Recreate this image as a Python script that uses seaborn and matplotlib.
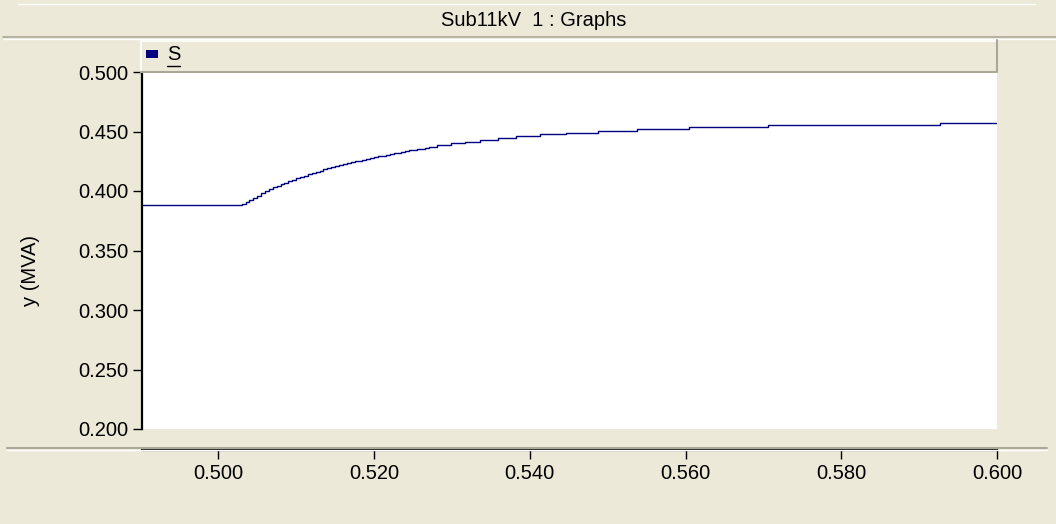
import matplotlib
matplotlib.use("Agg")
import matplotlib.pyplot as plt
from matplotlib.patches import Rectangle
from matplotlib.lines import Line2D
import seaborn as sns
import pandas as pd

# Apparent power S of Sub11kV over time (s), stepped simulation output
time_s = [0.4900, 0.5028, 0.5030, 0.5035, 0.5040, 0.5045, 0.5050, 0.5055,
          0.5060, 0.5065, 0.5070, 0.5075, 0.5080, 0.5085, 0.5090, 0.5095,
          0.5100, 0.5105, 0.5110, 0.5115, 0.5120, 0.5125, 0.5130, 0.5135,
          0.5140, 0.5145, 0.5150, 0.5155, 0.5160, 0.5165, 0.5170, 0.5175,
          0.5180, 0.5185, 0.5190, 0.5195, 0.5200, 0.5205, 0.5210, 0.5215,
          0.5220, 0.5225, 0.5230, 0.5235, 0.5240, 0.5245, 0.5250, 0.5255,
          0.5260, 0.5265, 0.5270, 0.5275, 0.52806, 0.52986, 0.53170, 0.53362,
          0.53598, 0.53825, 0.54133, 0.54467, 0.54874, 0.55375, 0.56051,
          0.57060, 0.59270, 0.6000]
s_mva = [0.3880, 0.3880, 0.3888, 0.3905, 0.3924, 0.3943, 0.3962, 0.3980,
         0.3997, 0.4014, 0.4030, 0.4044, 0.4058, 0.4071, 0.4084, 0.4096,
         0.4108, 0.4119, 0.4130, 0.4141, 0.4151, 0.4161, 0.4171, 0.4181,
         0.4190, 0.4199, 0.4208, 0.4217, 0.4225, 0.4233, 0.4241, 0.4249,
         0.4256, 0.4264, 0.4271, 0.4278, 0.4285, 0.4292, 0.4298, 0.4305,
         0.4311, 0.4317, 0.4323, 0.4329, 0.4335, 0.4341, 0.4346, 0.4352,
         0.4357, 0.4362, 0.4368, 0.4372, 0.4387, 0.4401, 0.4415, 0.4429,
         0.4445, 0.4462, 0.4476, 0.4490, 0.4507, 0.4524, 0.4540,
         0.4557, 0.4570, 0.4570]

x_ticks = [0.50, 0.52, 0.54, 0.56, 0.58, 0.60]
y_ticks = [0.20, 0.25, 0.30, 0.35, 0.40, 0.45, 0.50]
title = "Sub11kV  1 : Graphs"
y_label = "y (MVA)"
series_name = "S"

W, H = 1056, 524
BEIGE = "#ECE9D8"
SHADOW = "#ACA899"
NAVY = "#000080"
FS = 14.5

sns.set_style("ticks")
plt.rcParams["font.family"] = ["Liberation Sans", "DejaVu Sans"]
plt.rcParams["text.color"] = "black"

fig = plt.figure(figsize=(W / 100, H / 100), dpi=100, facecolor=BEIGE)


def fx(px):
    return px / W


def fy(py):
    return 1 - py / H


def hline(y, x0, x1, color, lw=1.0):
    fig.add_artist(Line2D([fx(x0), fx(x1)], [fy(y), fy(y)], color=color,
                          lw=lw, transform=fig.transFigure))


# window frame lines
hline(4, 18, 1035, "white")
hline(36.5, 3, 1056, SHADOW, 1.2)
hline(39, 3, 1056, "white")
hline(447.5, 7, 1047, SHADOW, 1.5)
hline(449.8, 7, 1047, "white")

fig.text(fx(534), fy(21), title, ha="center", va="center", fontsize=FS,
         color="black")

ax = fig.add_axes([fx(142), fy(429), fx(997) - fx(142), (429 - 72) / H])
ax.set_facecolor("white")

df = pd.DataFrame({"t": time_s, "S": s_mva})
sns.lineplot(data=df, x="t", y="S", ax=ax, color=NAVY, lw=1.0,
             drawstyle="steps-post", estimator=None, sort=False)

ax.set_xlim(0.4902, 0.6000)
ax.set_ylim(0.20, 0.50)
ax.set_xticks(x_ticks)
ax.set_yticks(y_ticks)
ax.set_xticklabels([f"{v:.3f}" for v in x_ticks])
ax.set_yticklabels([f"{v:.3f}" for v in y_ticks])
ax.set_xlabel("")
ax.set_ylabel("")

for side in ("top", "right"):
    ax.spines[side].set_visible(False)
ax.spines["left"].set_color("black")
ax.spines["left"].set_linewidth(1.6)
ax.spines["bottom"].set_color("black")
ax.spines["bottom"].set_linewidth(1.6)
ax.spines["bottom"].set_position(("outward", 21 * 0.72))
ax.tick_params(axis="both", direction="out", length=6.3, width=1.0,
               color="black", labelsize=FS, labelcolor="black", pad=3.5)

fig.text(fx(30), fy(270), y_label, rotation=90, ha="center", va="center",
         fontsize=FS, color="black")

# legend bar across the top of the plot
fig.add_artist(Rectangle((fx(141), fy(72)), fx(997) - fx(141), (72 - 40) / H,
                         transform=fig.transFigure, facecolor=BEIGE,
                         edgecolor="none", zorder=5))
fig.add_artist(Line2D([fx(141), fx(141), fx(997)], [fy(72), fy(40.5), fy(40.5)],
                      color="white", lw=1.2, transform=fig.transFigure, zorder=6))
fig.add_artist(Line2D([fx(141), fx(997), fx(997)], [fy(71.5), fy(71.5), fy(40)],
                      color=SHADOW, lw=1.5, transform=fig.transFigure, zorder=6))
fig.add_artist(Rectangle((fx(146), fy(58)), fx(158) - fx(146), (58 - 50) / H,
                         transform=fig.transFigure, facecolor=NAVY,
                         edgecolor="none", zorder=7))
fig.text(fx(167), fy(55), series_name, ha="left", va="center", fontsize=FS,
         color="black", zorder=7)
fig.add_artist(Line2D([fx(167), fx(180)], [fy(66), fy(66)], color="black",
                      lw=1.0, transform=fig.transFigure, zorder=7))

fig.savefig("out.png", dpi=100, facecolor=BEIGE)
